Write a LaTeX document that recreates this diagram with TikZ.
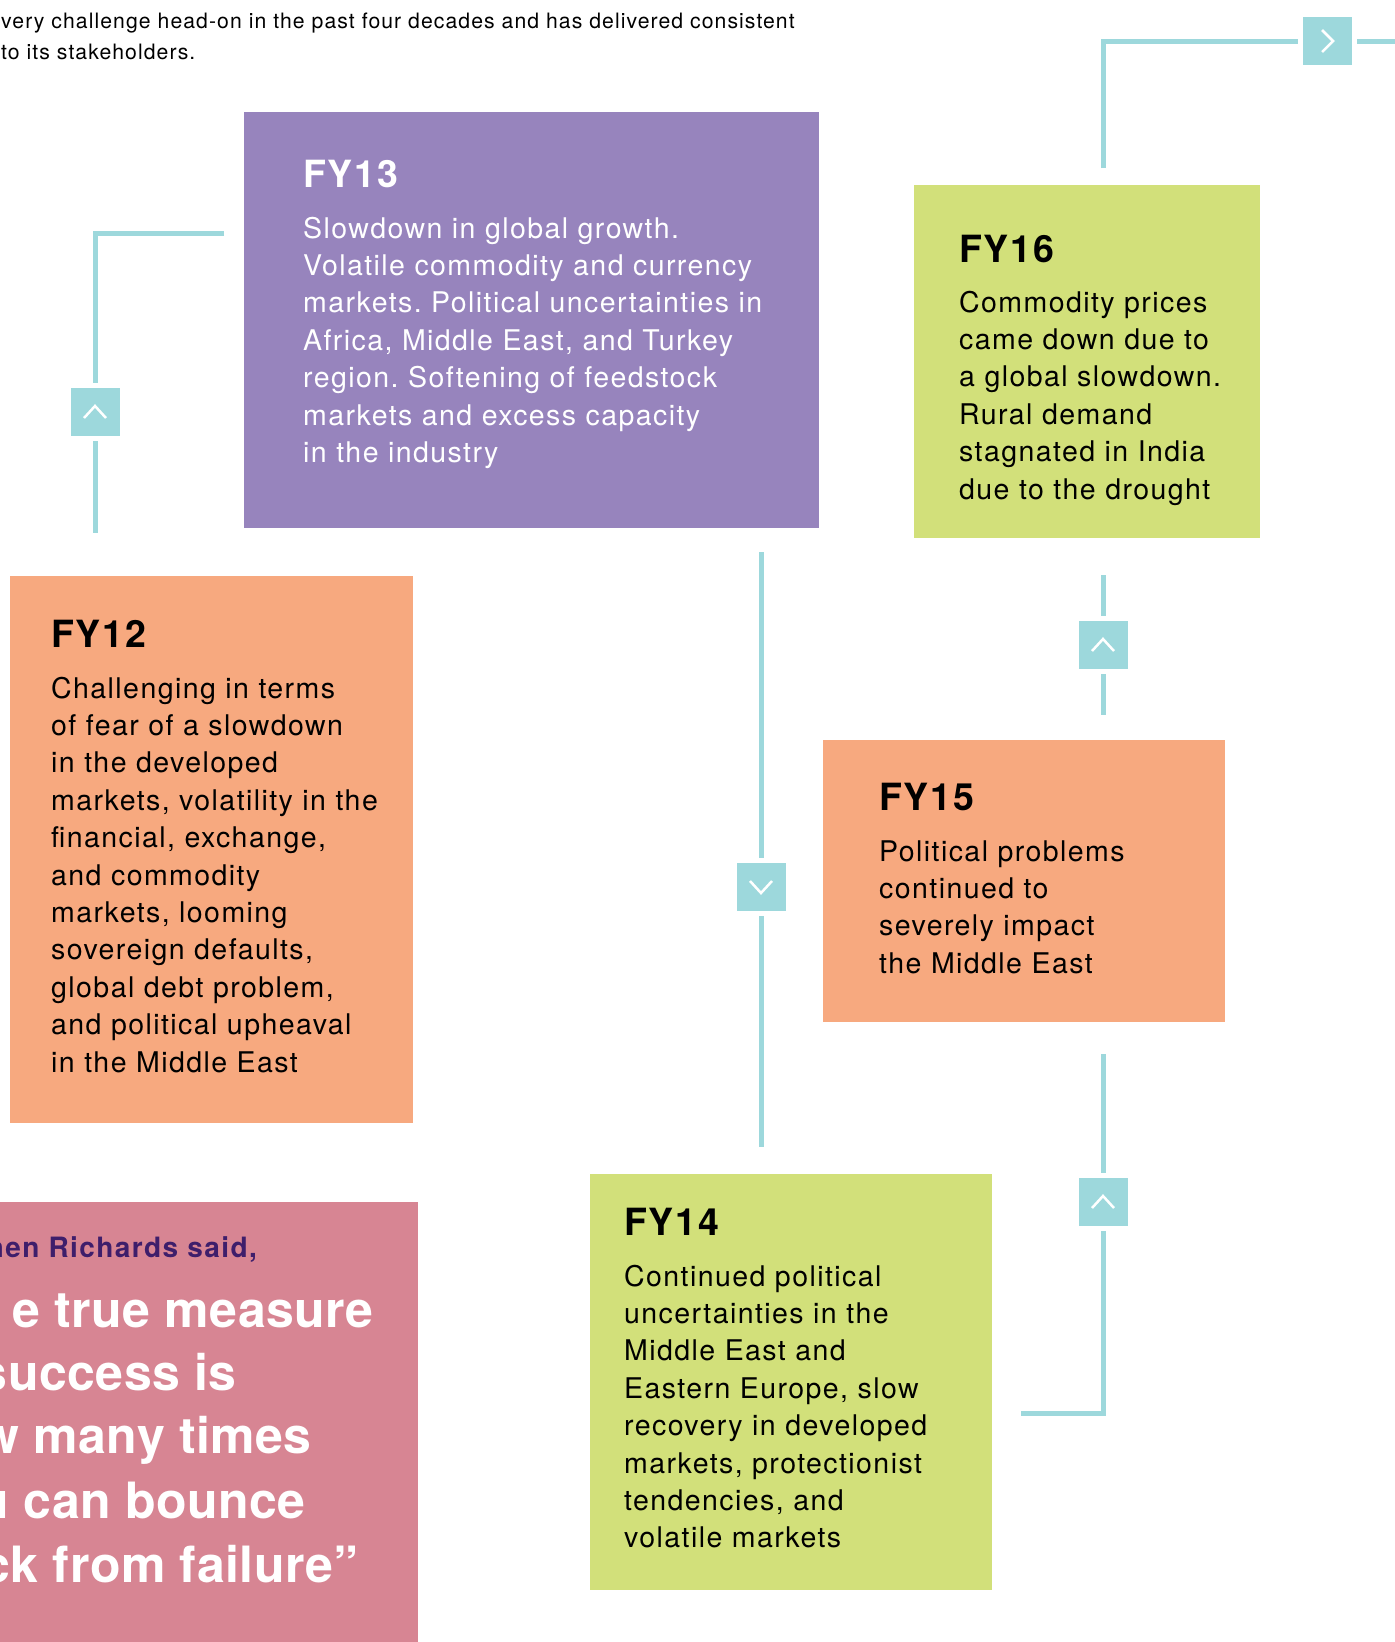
\documentclass[tikz,border=0pt]{standalone}
\usepackage{fontspec}
\setmainfont{TeX Gyre Heros}[LetterSpace=5]
\newfontfamily\quotefont{TeX Gyre Heros}[LetterSpace=1]
\usetikzlibrary{backgrounds}
\definecolor{fypurple}{RGB}{151,132,189}
\definecolor{fygreen}{RGB}{210,224,122}
\definecolor{fyorange}{RGB}{247,169,127}
\definecolor{fypink}{RGB}{215,133,147}
\definecolor{linkteal}{RGB}{157,216,220}
\definecolor{quotepurple}{RGB}{62,30,107}
\frenchspacing

\tikzset{
  yearbox/.style={anchor=north west, inner sep=0pt, outer sep=0pt},
  yeartitle/.style={anchor=base west, inner sep=0pt, font=\fontsize{37.5}{44}\selectfont\bfseries},
  yeartext/.style={anchor=base west, inner sep=0pt, text width=560pt, align=left, font=\fontsize{28.5}{37.4}\selectfont},
  quoteline/.style={anchor=base east, inner sep=0pt, text=white, font=\quotefont\fontsize{50}{64}\selectfont\bfseries},
  link/.style={draw=linkteal, line width=5pt},
  chev/.style={fill=linkteal, draw=white, line width=5pt, minimum width=54pt, minimum height=53pt, inner sep=0pt},
  chevup/.style={chev, path picture={\draw[white, line width=2.5pt] ([xshift=-11pt,yshift=-6pt]path picture bounding box.center) -- ([yshift=6pt]path picture bounding box.center) -- ([xshift=11pt,yshift=-6pt]path picture bounding box.center);}},
  chevdown/.style={chev, path picture={\draw[white, line width=2.5pt] ([xshift=-11pt,yshift=6pt]path picture bounding box.center) -- ([yshift=-6pt]path picture bounding box.center) -- ([xshift=11pt,yshift=6pt]path picture bounding box.center);}},
  chevright/.style={chev, path picture={\draw[white, line width=2.5pt] ([xshift=-5pt,yshift=11pt]path picture bounding box.center) -- ([xshift=6pt]path picture bounding box.center) -- ([xshift=-5pt,yshift=-11pt]path picture bounding box.center);}},
}

\begin{document}
\begin{tikzpicture}[x=1pt,y=-1pt]
\useasboundingbox (0,0) rectangle (1395,1642);

% Text Node
\node[anchor=base west, inner sep=0pt, font=\fontsize{21.2}{31}\selectfont] (intro1) at (1,28) {very challenge head-on in the past four decades and has delivered consistent};
\node[anchor=base west, inner sep=0pt, font=\fontsize{21.2}{31}\selectfont] (intro2) at (1,59) {to its stakeholders.};

% FY13
\node[yearbox, fill=fypurple, minimum width=575pt, minimum height=416pt] (fy13) at (244,112) {};
\node[yeartitle, text=white] (fy13h) at (303,187) {FY13};
\node[yeartext, text=white] (fy13t) at (303,238) {Slowdown in global growth.\\
Volatile commodity and currency\\
markets. Political uncertainties in\\
Africa, Middle East, and Turkey\\
region. Softening of feedstock\\
markets and excess capacity\\
in the industry};

% FY16
\node[yearbox, fill=fygreen, minimum width=346pt, minimum height=353pt] (fy16) at (914,185) {};
\node[yeartitle] (fy16h) at (959,262) {FY16};
\node[yeartext] (fy16t) at (959,312) {Commodity prices\\
came down due to\\
a global slowdown.\\
Rural demand\\
stagnated in India\\
due to the drought};

% FY12
\node[yearbox, fill=fyorange, minimum width=403pt, minimum height=547pt] (fy12) at (10,576) {};
\node[yeartitle] (fy12h) at (51,647) {FY12};
\node[yeartext] (fy12t) at (51,698) {Challenging in terms\\
of fear of a slowdown\\
in the developed\\
markets, volatility in the\\
financial, exchange,\\
and commodity\\
markets, looming\\
sovereign defaults,\\
global debt problem,\\
and political upheaval\\
in the Middle East};

% FY15
\node[yearbox, fill=fyorange, minimum width=402pt, minimum height=282pt] (fy15) at (823,740) {};
\node[yeartitle] (fy15h) at (879,810) {FY15};
\node[yeartext] (fy15t) at (879,861) {Political problems\\
continued to\\
severely impact\\
the Middle East};

% FY14
\node[yearbox, fill=fygreen, minimum width=402pt, minimum height=416pt] (fy14) at (590,1174) {};
\node[yeartitle] (fy14h) at (624,1235) {FY14};
\node[yeartext] (fy14t) at (624,1286) {Continued political\\
uncertainties in the\\
Middle East and\\
Eastern Europe, slow\\
recovery in developed\\
markets, protectionist\\
tendencies, and\\
volatile markets};

% quote
\node[yearbox, fill=fypink, minimum width=418pt, minimum height=450pt] (quote) at (0,1202) {};
\node[anchor=base east, inner sep=0pt, text=quotepurple, font=\fontsize{28}{34}\selectfont\bfseries] (said) at (257,1257) {hen Richards said,};
\node[quoteline] (q1) at (374,1327) {e true measure};
\node[quoteline] (q2) at (237,1390) {success is};
\node[quoteline] (q3) at (312,1453) {w many times};
\node[quoteline] (q4) at (306,1518) {u can bounce};
\node[quoteline] (q5) at (359,1582) {ck from failure”};

% chevrons
\node[chevright] (nxt) at (1327,41) {};
\node[chevup] (up1) at (95,412) {};
\node[chevdown] (dn1) at (761,887) {};
\node[chevup] (up2) at (1103,645) {};
\node[chevup] (up3) at (1103,1202) {};

\coordinate (a1) at (1103,168);
\coordinate (a2) at (1395,41);
\coordinate (b1) at (224,233);
\coordinate (b2) at (95,533);
\coordinate (c1) at (761,552);
\coordinate (c2) at (761,1147);
\coordinate (d1) at (1103,575);
\coordinate (d2) at (1103,715);
\coordinate (e1) at (1103,1054);
\coordinate (e2) at (1021,1413);

% Straight Lines
\begin{pgfonlayer}{background}
\draw[link] (a1) |- (nxt.center) -- (a2);
\draw[link] (b1) -| (up1.center) -- (b2);
\draw[link] (c1) -- (dn1.center) -- (c2);
\draw[link] (d1) -- (up2.center) -- (d2);
\draw[link] (e1) -- (up3.center) |- (e2);
\end{pgfonlayer}

\end{tikzpicture}
\end{document}
